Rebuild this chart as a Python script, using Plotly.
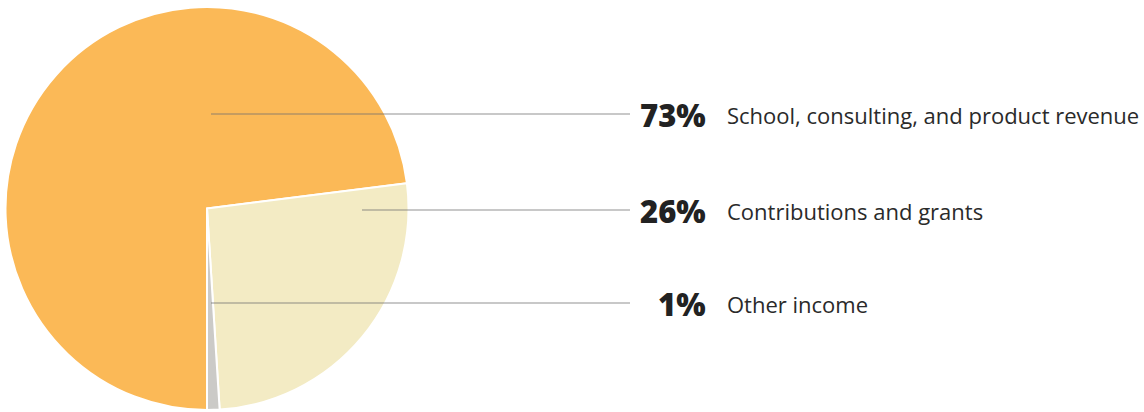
import plotly.graph_objects as go

W, H = 1144, 412

categories = ["School, consulting, and product revenue", "Contributions and grants", "Other income"]
values = [73, 26, 1]
pct_labels = ["73%", "26%", "1%"]
colors = ["#FBB957", "#F3EBC4", "#CBCAC7"]

# leader line layout (pixels)
line_y = [114, 210, 303]
line_x0 = [211, 362, 211]
line_x1 = 630
pct_right = 708
label_left = 725

def px(x):
    return x / W

def py(y):
    return 1 - y / H

fig = go.Figure(go.Pie(
    labels=categories,
    values=values,
    sort=False,
    direction="clockwise",
    rotation=180,
    marker=dict(colors=colors, line=dict(color="white", width=2)),
    textinfo="none",
    hoverinfo="label+percent",
    domain=dict(x=[px(5), px(409)], y=[py(410), py(7)]),
    showlegend=False,
))

shapes = []
annotations = []
for i in range(len(values)):
    shapes.append(dict(
        type="line", xref="paper", yref="paper",
        x0=px(line_x0[i]), x1=px(line_x1), y0=py(line_y[i]), y1=py(line_y[i]),
        line=dict(color="rgba(110,110,110,0.38)", width=2),
        layer="above",
    ))
    annotations.append(dict(
        xref="paper", yref="paper", x=px(pct_right), y=py(line_y[i] + 1),
        xanchor="right", yanchor="middle", showarrow=False,
        text=pct_labels[i],
        font=dict(family="Open Sans, sans-serif", size=31, color="#222222", weight=800),
    ))
    annotations.append(dict(
        xref="paper", yref="paper", x=px(label_left), y=py(line_y[i] + 1),
        xanchor="left", yanchor="middle", showarrow=False,
        text=categories[i],
        font=dict(family="Open Sans, sans-serif", size=22, color="#2a2a2a"),
    ))

fig.update_layout(
    width=W, height=H,
    margin=dict(l=0, r=0, t=0, b=0),
    paper_bgcolor="white", plot_bgcolor="white",
    shapes=shapes, annotations=annotations,
)

fig.write_html(
    "out.html",
    config={"displayModeBar": False},
    post_script="document.body.style.margin='0';document.body.style.overflow='hidden';",
)
